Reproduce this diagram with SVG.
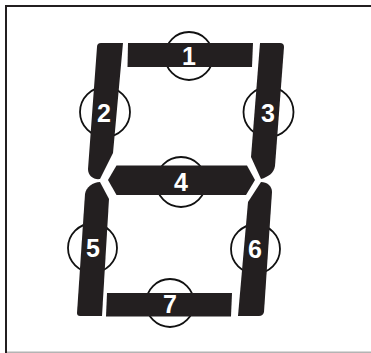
<svg xmlns="http://www.w3.org/2000/svg" width="371" height="353" viewBox="0 0 371 353">
<style>
.seg{fill:#231f20}
.ring{fill:none;stroke:#111;stroke-width:1.8}
.lbl{font-family:"Liberation Sans",Arial,sans-serif;font-weight:bold;font-size:25px;fill:#fff;text-anchor:middle}
</style>
<rect x="0" y="0" width="371" height="353" fill="#fff"/>
<g id="frame">
<rect x="5" y="5" width="366" height="2" fill="#231f20"/>
<rect x="5" y="5" width="2" height="348" fill="#231f20"/>
<rect x="7" y="351.5" width="364" height="1.5" fill="#b4b4b4"/>
</g>
<g id="connectors"></g>
<g id="seg1">
<circle class="ring" cx="189" cy="56" r="24"/>
<path class="seg" d="M128,43 L253,43 L252,67 L127.5,67 Z"/>
<text class="lbl" x="189" y="65">1</text>
</g>
<g id="seg2">
<circle class="ring" cx="105" cy="112" r="25"/>
<path class="seg" d="M101,43 L123,43 L113,153 L100,179 C94,180 88,176 88,169 L97,47 Q97,43 101,43 Z"/>
<text class="lbl" x="104" y="122">2</text>
</g>
<g id="seg3">
<circle class="ring" cx="268.5" cy="112" r="25"/>
<path class="seg" d="M260,43 L280,43 Q284,43 284,47 L275,166 C274,173 268,177 261,179 L251,157 Z"/>
<text class="lbl" x="268" y="122">3</text>
</g>
<g id="seg4">
<circle class="ring" cx="181" cy="182" r="25"/>
<path class="seg" d="M108,180 L116.5,165.5 L247,165.5 L255,180 L246,195 L116.5,195 Z"/>
<text class="lbl" x="181" y="191">4</text>
</g>
<g id="seg5">
<circle class="ring" cx="92.5" cy="248" r="24.5"/>
<path class="seg" d="M100,182 L109,199 L102,316 L80,316 Q77,316 77,313 L85,194 C86,187 93,182 100,182 Z"/>
<text class="lbl" x="93" y="257">5</text>
</g>
<g id="seg6">
<circle class="ring" cx="255.5" cy="249" r="24.5"/>
<path class="seg" d="M261,182 C267,182 272,186 272,192 L264,312 Q263,316 259,316 L238,316 L248,202 Z"/>
<text class="lbl" x="255" y="258">6</text>
</g>
<g id="seg7">
<circle class="ring" cx="170" cy="303" r="24"/>
<path class="seg" d="M107,293 L232,293 L231,316.5 L106,316.5 Z"/>
<text class="lbl" x="170" y="313">7</text>
</g>
</svg>
